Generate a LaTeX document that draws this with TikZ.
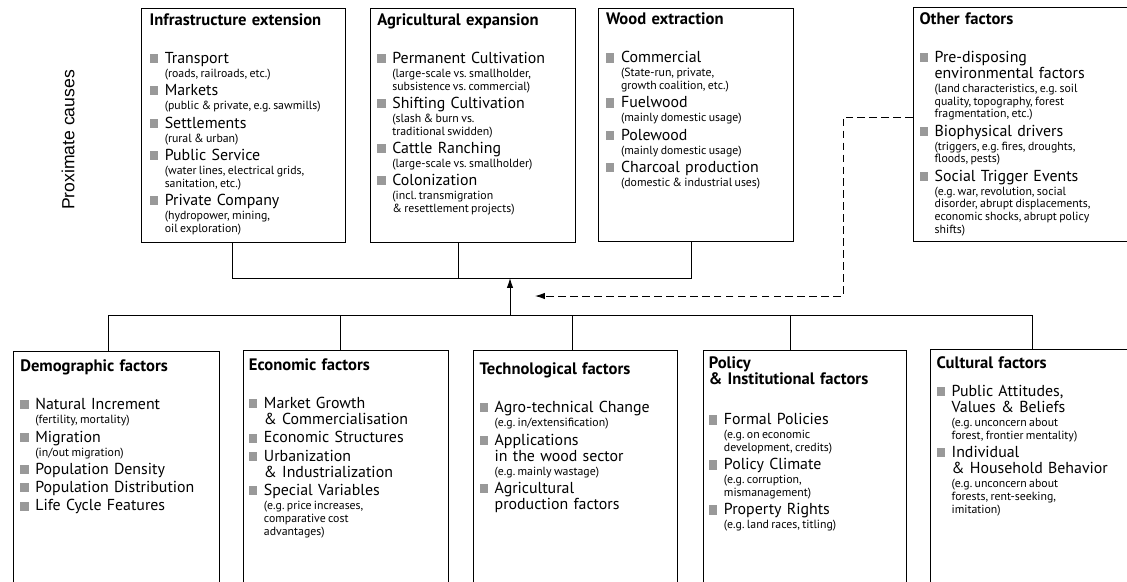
\documentclass[tikz,border=0pt]{standalone}
\usepackage{fontspec}
\setmainfont{PT Sans}
\newfontfamily\proxfont{Liberation Sans}
\usetikzlibrary{positioning,arrows.meta}

\newcommand{\px}{0.025cm}
\newcommand{\hdfont}{\fontsize{11.8}{11}\selectfont\bfseries}
\newcommand{\itmfont}{\fontsize{11.3}{11.5}\selectfont}
\newcommand{\notefont}{\fontsize{8.4}{9}\selectfont\spaceskip=0.2em plus 0.05em\relax}
\newcommand{\bodyfont}{\itmfont\frenchspacing\lineskiplimit=-5pt\lineskip=0pt\relax}
\newcommand{\bulsq}{\textcolor{black!40}{\rule[0.2pt]{6pt}{6.5pt}}}
\newcommand{\brk}{\hfil\break}
\newcommand{\hd}[2][14pt]{{\noindent\hdfont #2\par}\vspace{#1}}
\newcommand{\itm}[1]{\par\vspace{1.5pt}\hangindent=10.7pt\hangafter=1\noindent\bulsq\hspace{4.7pt}#1\par}
\newcommand{\itmnote}[1]{{\notefont\vspace{1pt}\leftskip=10.7pt\noindent #1\par}}

\tikzset{
  topbox/.style={draw, line width=0.6pt, anchor=north west, inner sep=0pt, minimum height=233.5*\px},
  botbox/.style={draw, line width=0.6pt, anchor=north west, inner sep=0pt, minimum height=300*\px},
  body/.style={inner sep=0pt, align=left, font=\bodyfont},
  link/.style={line width=0.6pt},
  dlink/.style={line width=0.6pt, dash pattern=on 5.5pt off 3pt},
  tip/.style={-{Latex[length=7pt,width=4.5pt]}}
}

\begin{document}
\begin{tikzpicture}[x=\px, y=-\px]
        \useasboundingbox (0,0) rectangle (1127,581);
        \clip (0,0) rectangle (1127,581);

        \node[rotate=90, font=\proxfont\fontsize{12.5}{14}\selectfont] (prox) at (68,140) {Proximate causes};

        % proximate causes
        \node[topbox, minimum width=204*\px] (infra) at (141,8) {};
        \node[body, text width=200*\px, below right=3.8pt and 6pt of infra.north west] (infraT) {%
          \hd{Infrastructure extension}
          \itm{Transport}\itmnote{(roads, railroads, etc.)}
          \itm{Markets}\itmnote{(public \& private, e.g. sawmills)}
          \itm{Settlements}\itmnote{(rural \& urban)}
          \itm{Public Service}\itmnote{(water lines, electrical grids,\brk sanitation, etc.)}
          \itm{Private Company}\itmnote{(hydropower, mining,\brk oil exploration)}};

        \node[topbox, minimum width=205*\px] (agri) at (370,8) {};
        \node[body, text width=200*\px, below right=3.8pt and 5pt of agri.north west] (agriT) {%
          \hd{Agricultural expansion}
          \itm{Permanent Cultivation}\itmnote{(large-scale vs. smallholder,\brk subsistence vs. commercial)}
          \itm{Shifting Cultivation}\itmnote{(slash \& burn vs.\brk traditional swidden)}
          \itm{Cattle Ranching}\itmnote{(large-scale vs. smallholder)}
          \itm{Colonization}\itmnote{(incl. transmigration\brk \& resettlement projects)}};

        \node[topbox, minimum width=195*\px] (wood) at (598,7.5) {};
        \node[body, text width=190*\px, below right=3.8pt and 5.5pt of wood.north west] (woodT) {%
          \hd{Wood extraction}
          \itm{Commercial}\itmnote{(State-run, private,\brk growth coalition, etc.)}
          \itm{Fuelwood}\itmnote{(mainly domestic usage)}
          \itm{Polewood}\itmnote{(mainly domestic usage)}
          \itm{Charcoal production}\itmnote{(domestic \& industrial uses)}};

        \node[topbox, minimum width=230*\px] (other) at (913,7) {};
        \node[body, text width=225*\px, below right=3.8pt and 4.5pt of other.north west] (otherT) {%
          \hd{Other factors}
          \itm{Pre-disposing\brk environmental factors}\itmnote{(land characteristics, e.g. soil\brk quality, topography, forest\brk fragmentation, etc.)}
          \itm{Biophysical drivers}\itmnote{(triggers, e.g. fires, droughts,\brk floods, pests)}
          \itm{Social Trigger Events}\itmnote{(e.g. war, revolution, social\brk disorder, abrupt displacements,\brk economic shocks, abrupt policy\brk shifts)}};

        % underlying causes
        \node[botbox, minimum width=206*\px] (demo) at (13,350.5) {};
        \node[body, text width=200*\px, below right=6.5pt and 5pt of demo.north west] (demoT) {%
          \hd{Demographic factors}
          \itm{Natural Increment}\itmnote{(fertility, mortality)}
          \itm{Migration}\itmnote{(in/out migration)}
          \itm{Population Density}
          \itm{Population Distribution}
          \itm{Life Cycle Features}};

        \node[botbox, minimum width=205*\px] (econ) at (243,350) {};
        \node[body, text width=200*\px, below right=6pt and 4pt of econ.north west] (econT) {%
          \hd{Economic factors}
          \itm{Market Growth\brk \& Commercialisation}
          \itm{Economic Structures}
          \itm{Urbanization\brk \& Industrialization}
          \itm{Special Variables}\itmnote{(e.g. price increases,\brk comparative cost\brk advantages)}};

        \node[botbox, minimum width=204*\px] (tech) at (473,350) {};
        \node[body, text width=200*\px, below right=9pt and 4.5pt of tech.north west] (techT) {%
          \hd{Technological factors}
          \itm{Agro-technical Change}\itmnote{(e.g. in/extensification)}
          \itm{Applications\brk in the wood sector}\itmnote{(e.g. mainly wastage)}
          \itm{Agricultural\brk production factors}};

        \node[botbox, minimum width=203*\px] (policy) at (703,349.5) {};
        \node[body, text width=200*\px, below right=5pt and 4pt of policy.north west] (policyT) {%
          \hd[16pt]{Policy\brk \& Institutional factors}
          \itm{Formal Policies}\itmnote{(e.g. on economic\brk development, credits)}
          \itm{Policy Climate}\itmnote{(e.g. corruption,\brk mismanagement)}
          \itm{Property Rights}\itmnote{(e.g. land races, titling)}};

        \node[botbox, minimum width=204*\px] (cult) at (930,349) {};
        \node[body, text width=200*\px, below right=5pt and 4.5pt of cult.north west] (cultT) {%
          \hd[7pt]{Cultural factors}
          \itm{Public Attitudes,\brk Values \& Beliefs}\itmnote{(e.g. unconcern about\brk forest, frontier mentality)}
          \itm{Individual\brk \& Household Behavior}\itmnote{(e.g. unconcern about\brk forests, rent-seeking,\brk imitation)}};

        % connectors
        \coordinate (tbar) at (510,278);
        \coordinate (bbar) at (510,315);
        \coordinate (dturn) at (843,117);
        \coordinate (dend) at (535,296);

        \draw[link] ([xshift=-11*\px]infra.south) -- ([xshift=-11*\px]infra.south |- tbar) -| ([xshift=-4.5*\px]wood.south);
        \draw[link] ([xshift=-15*\px]agri.south) -- ([xshift=-15*\px]agri.south |- tbar);

        \draw[link] ([xshift=-8*\px]demo.north) -- ([xshift=-8*\px]demo.north |- bbar) -| (cult.north);
        \draw[link] ([xshift=-5.5*\px]econ.north) -- ([xshift=-5.5*\px]econ.north |- bbar);
        \draw[link] ([xshift=-3*\px]tech.north) -- ([xshift=-3*\px]tech.north |- bbar);
        \draw[link] ([xshift=-14.5*\px]policy.north) -- ([xshift=-14.5*\px]policy.north |- bbar);

        \draw[link, tip] (bbar) -- (tbar);
        \draw[dlink, tip] (other.west |- dturn) -- (dturn) -- (dturn |- dend) -- (dend);
\end{tikzpicture}
\end{document}
